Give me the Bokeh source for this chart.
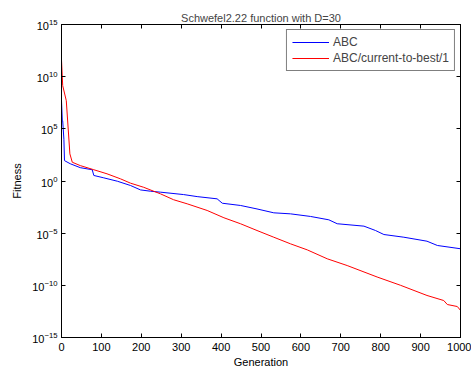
from bokeh.plotting import figure
from bokeh.models import (LogAxis, LinearAxis, FixedTicker, CustomJSTickFormatter,
                          Legend, LegendItem, ColumnDataSource)
from bokeh.embed import file_html
from bokeh.resources import INLINE

# ---- data ----
abc_gen = [0, 2, 3, 6, 7.5, 22, 47, 77, 81, 106, 140, 173, 198, 223, 248, 306, 340,
           390, 403, 449, 490, 532, 574, 624, 670, 691, 758, 787, 808, 858, 916,
           942, 1000]
abc_fit = [5e7, 6e5, 6e5, 1e4, 9e1, 4.5e1, 1.9e1, 1.2e1, 3.4e0, 2.0e0, 9.5e-1,
           3.7e-1, 1.4e-1, 1.05e-1, 8.5e-2, 5e-2, 3.2e-2, 1.95e-2, 7.4e-3, 4.5e-3,
           2.1e-3, 8.9e-4, 7.1e-4, 4e-4, 1.9e-4, 8e-5, 4.7e-5, 1.8e-5, 7.4e-6,
           4.1e-6, 1.7e-6, 6.6e-7, 3.2e-7]

cur_gen = [0, 3, 12, 21, 27, 47, 81, 114, 148, 173, 206, 231, 248, 281, 315, 365,
           407, 449, 490, 532, 574, 616, 666, 716, 791, 850, 916, 958, 967, 992, 1000]
cur_fit = [4e11, 1.4e9, 5e7, 4e2, 6.3e1, 3e1, 1.2e1, 4.9e0, 1.6e0, 6.2e-1, 2.5e-1,
           1.05e-1, 5.9e-2, 1.6e-2, 6.5e-3, 1.5e-3, 3e-4, 7.9e-5, 1.8e-5, 4.1e-6,
           9.5e-7, 2.5e-7, 3.5e-8, 7.9e-9, 6.3e-10, 1e-10, 1.07e-11, 3.5e-12,
           1.45e-12, 9.3e-13, 4e-13]

y_ticks = [1e-15, 1e-10, 1e-5, 1e0, 1e5, 1e10, 1e15]
x_ticks = [0, 100, 200, 300, 400, 500, 600, 700, 800, 900, 1000]

FONT = "Liberation Sans"

p = figure(width=471, height=370, x_range=(0, 1000), y_range=(1e-15, 1e15),
           y_axis_type="log", output_backend="svg", toolbar_location=None,
           title="Schwefel2.22 function with D=30",
           min_border_left=61, min_border_right=11, min_border_top=24,
           min_border_bottom=33)

p.title.align = "center"
p.title.text_font = FONT
p.title.text_font_size = "11px"
p.title.text_font_style = "normal"
p.title.offset = 0
p.title.standoff = 2

p.outline_line_color = "black"
p.outline_line_width = 1
p.xgrid.visible = False
p.ygrid.visible = False
p.background_fill_color = "white"
p.border_fill_color = "white"

def style_axis(ax, ticks):
    ax.ticker = FixedTicker(ticks=ticks, minor_ticks=[])
    ax.major_tick_in = 4
    ax.major_tick_out = 0
    ax.minor_tick_in = 0
    ax.minor_tick_out = 0
    ax.axis_line_color = "black"
    ax.major_tick_line_color = "black"
    ax.major_label_text_font = FONT
    ax.major_label_text_font_size = "11px"
    ax.major_label_text_color = "black"
    ax.axis_label_text_font = FONT
    ax.axis_label_text_font_size = "11px"
    ax.axis_label_text_font_style = "normal"
    ax.axis_label_text_color = "black"

style_axis(p.xaxis[0], x_ticks)
p.xaxis[0].axis_label = "Generation"
p.xaxis[0].major_label_standoff = 5
p.xaxis[0].axis_label_standoff = 2

style_axis(p.yaxis[0], y_ticks)
p.yaxis[0].axis_label = "Fitness"
p.yaxis[0].major_label_standoff = 4
p.yaxis[0].axis_label_standoff = 6

empty = CustomJSTickFormatter(code="return ''")
ra = LogAxis()
style_axis(ra, y_ticks)
ra.formatter = empty
ra.major_label_standoff = 0
p.add_layout(ra, "right")

ta = LinearAxis()
style_axis(ta, x_ticks)
ta.formatter = empty
ta.major_label_standoff = 0
p.add_layout(ta, "above")

src_abc = ColumnDataSource(dict(x=abc_gen, y=abc_fit))
src_cur = ColumnDataSource(dict(x=cur_gen, y=cur_fit))
r1 = p.line("x", "y", source=src_abc, line_color="#0000ff", line_width=1)
r2 = p.line("x", "y", source=src_cur, line_color="#ff0000", line_width=1)

legend = Legend(items=[LegendItem(label="ABC", renderers=[r1]),
                       LegendItem(label="ABC/current-to-best/1", renderers=[r2])],
                location="top_right")
legend.margin = 5
legend.padding = 5
legend.spacing = 2
legend.glyph_width = 37
legend.glyph_height = 14
legend.label_height = 14
legend.label_standoff = 4
legend.label_text_font = FONT
legend.label_text_font_size = "12px"
legend.border_line_color = "black"
legend.border_line_width = 1
legend.background_fill_color = "white"
legend.background_fill_alpha = 1
p.add_layout(legend, "center")

open("out.html", "w").write(file_html(p, INLINE))
